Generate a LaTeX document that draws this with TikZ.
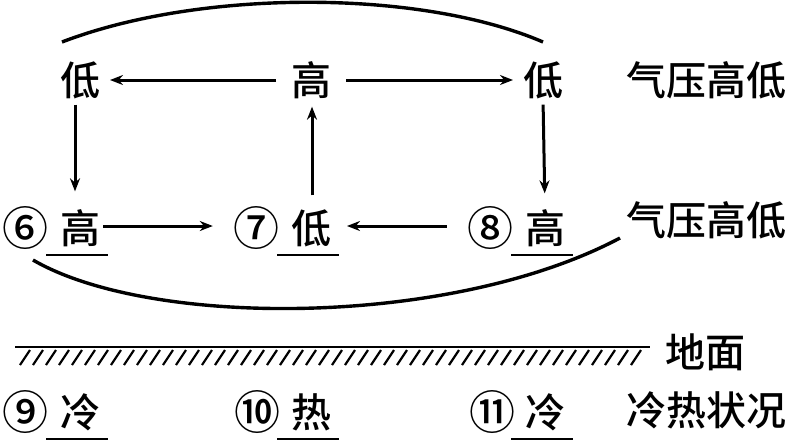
\documentclass[tikz,border=0pt]{standalone}
\usepackage{fontspec}
\newfontfamily\cjk{Noto Sans CJK SC Medium}
\usetikzlibrary{arrows.meta}
\begin{document}
\begin{tikzpicture}[x=1pt,y=-1pt,
  txt/.style={font=\cjk\fontsize{40}{44}\selectfont, inner sep=0pt, outer sep=0pt},
  circ/.style={font=\cjk\fontsize{46}{50}\selectfont, inner sep=0pt},
  arr/.style={line width=3pt, -{Stealth[length=13pt,width=10pt]}},
  arc/.style={line width=3.4pt},
  ul/.style={line width=2.8pt}]
\useasboundingbox (0,0) rectangle (799,440);
% top row
\node[txt] (l1) at (80,80) {低};
\node[txt] (h1) at (311,80) {高};
\node[txt] (l2) at (543,80) {低};
\node[txt] (lab1) at (706,80) {气压高低};
% second row
\node[circ] (n6) at (25,228) {⑥};
\node[txt] (h6) at (80,228) {高};
\node[circ] (n7) at (256,228) {⑦};
\node[txt] (l7) at (311,228) {低};
\node[circ] (n8) at (490,228) {⑧};
\node[txt] (h8) at (545,228) {高};
\node[txt] (lab2) at (706,220) {气压高低};
% ground
\node[txt] (g) at (705,352) {地面};
\coordinate (gl) at (15,347);
\coordinate (gr) at (650,347);
\draw[line width=2.8pt] (gl) -- (gr);
\foreach \x in {20,33,...,640} \draw[line width=2.2pt] (\x,365) -- (\x+10,350);
% bottom row
\node[circ] (n9) at (25,412) {⑨};
\node[txt] (c9) at (80,412) {冷};
\node[circ] (n10) at (257,412) {⑩};
\node[txt] (r10) at (311,412) {热};
\node[circ] (n11) at (492,412) {⑪};
\node[txt] (c11) at (545,412) {冷};
\node[txt] (lab3) at (706,410) {冷热状况};
% underlines
\foreach \n in {h6,l7,h8,c9,r10,c11}
  \draw[ul] ([xshift=-34pt,yshift=-27pt]\n.center) -- ([xshift=28pt,yshift=-27pt]\n.center);
% arrows
\draw[arr, shorten <=15pt, shorten >=10pt] (h1.west) -- (l1.east);
\draw[arr, shorten <=15pt, shorten >=10pt] (h1.east) -- (l2.west);
\draw[arr, shorten <=6pt, shorten >=18pt] ([xshift=-5pt]l1.south) -- ([xshift=-5pt]h6.north);
\draw[arr, shorten <=14pt, shorten >=8pt] ([xshift=1pt]l7.north) -- ([xshift=1pt]h1.south);
\draw[arr, shorten <=6pt, shorten >=16pt] (l2.south) -- (h8.north);
\draw[arr, shorten <=3pt, shorten >=20pt] ([yshift=2pt]h6.east) -- ([yshift=2pt]n7.west);
\draw[arr, shorten <=20pt, shorten >=16pt] ([yshift=2pt]n8.west) -- ([yshift=2pt]l7.east);
% arcs
\coordinate (ta) at (62,42);
\coordinate (tb) at (543,42);
\draw[arc] (ta) .. controls (200,-11) and (420,-11) .. (tb);
\coordinate (ba) at (33,260);
\coordinate (bb) at (620,238);
\draw[arc] (ba) .. controls (150,328) and (450,328) .. (bb);
\end{tikzpicture}
\end{document}
